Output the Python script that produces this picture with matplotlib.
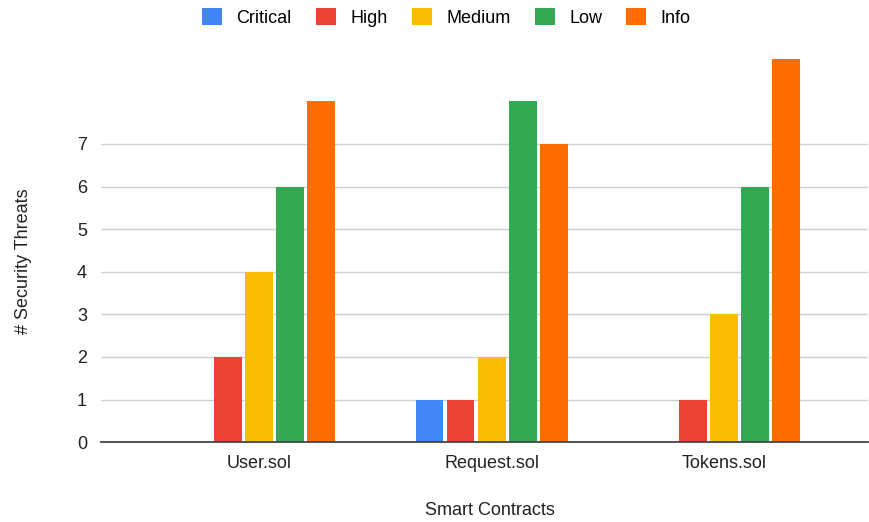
import numpy as np
import matplotlib
matplotlib.use("Agg")
import matplotlib.pyplot as plt
from matplotlib.patches import Patch

plt.rcParams['font.family'] = ['Liberation Sans', 'DejaVu Sans']

contracts = ["User.sol", "Request.sol", "Tokens.sol"]
severities = ["Critical", "High", "Medium", "Low", "Info"]
critical = [0, 1, 0]
high = [2, 1, 1]
medium = [4, 2, 3]
low = [6, 8, 6]
info = [8, 7, 9]
yticks = [0, 1, 2, 3, 4, 5, 6, 7]

colors = ["#4285F4", "#EA4335", "#FBBC04", "#34A853", "#FF6D01"]
series = [critical, high, medium, low, info]

fig = plt.figure(figsize=(8.7, 5.22), dpi=100)
ax = fig.add_axes([0.116, 0.153, 0.882, 0.736])

x = np.arange(len(contracts))
width = 0.12
step = 0.1335
for i, (vals, c) in enumerate(zip(series, colors)):
    ax.bar(x + (i - 2) * step, vals, width, color=c, zorder=3)

fs = 13
ax.set_xlim(-0.68, 2.62)
ax.set_ylim(0, 9.02)
ax.set_yticks(yticks)
ax.set_xticks(x)
ax.set_xticklabels(contracts)
ax.tick_params(axis='both', length=0, labelsize=fs, colors="#222222")
ax.tick_params(axis='y', pad=10)
ax.tick_params(axis='x', pad=9)
ax.grid(axis='y', color="#d0d0d0", linewidth=1, zorder=0)
for s in ["top", "right", "left"]:
    ax.spines[s].set_visible(False)
ax.spines["bottom"].set_color("#444444")
ax.spines["bottom"].set_linewidth(1.3)
ax.spines["bottom"].set_zorder(4)

fig.text(0.027, 0.5, "# Security Threats", rotation=90, ha='center', va='center',
         fontsize=fs, color="#222222")
fig.text(0.563, 0.022, "Smart Contracts", ha='center', va='center',
         fontsize=fs, color="#222222")

handles = [Patch(facecolor=c, edgecolor='none') for c in colors]
fig.legend(handles, severities, loc='center', bbox_to_anchor=(0.513, 0.967), ncol=5,
           frameon=False, fontsize=fs, handlelength=1.1, handleheight=1.1,
           handletextpad=0.8, columnspacing=1.35)

fig.savefig("out.png", dpi=100)
